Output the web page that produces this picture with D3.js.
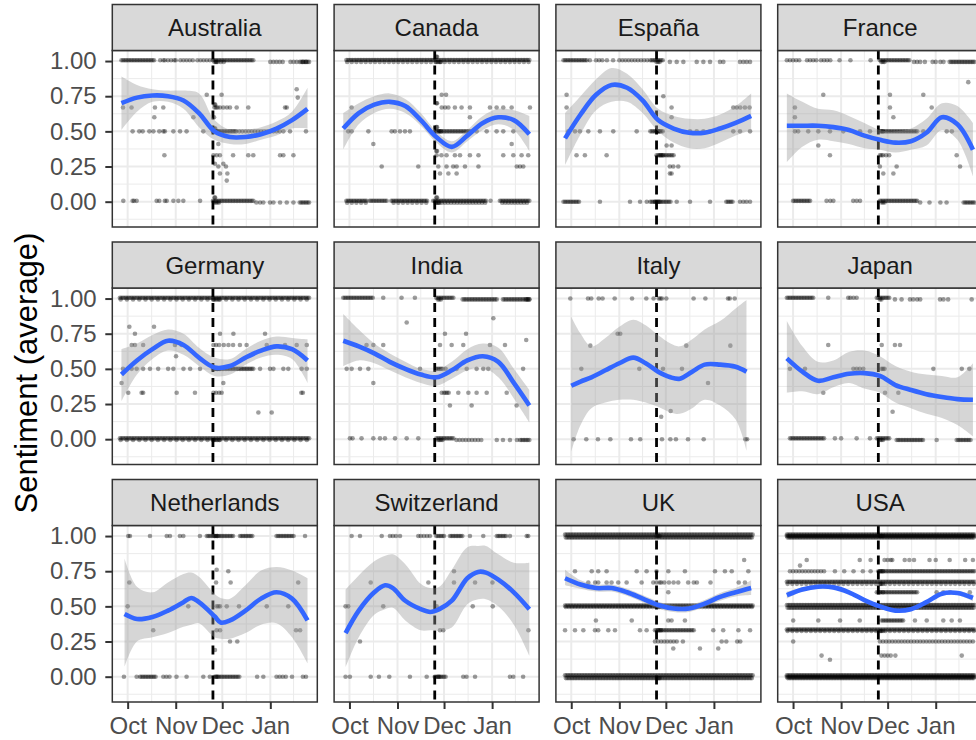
<!DOCTYPE html>
<html><head><meta charset="utf-8">
<script src="https://cdn.jsdelivr.net/npm/d3@7"></script>
<style>body{margin:0;background:#fff}svg{display:block}</style>
</head><body><svg id="chart" width="976" height="740"></svg>
<script>
// ---------------- data ----------------
const countries = ["Australia","Canada","España","France","Germany","India","Italy","Japan","Netherlands","Switzerland","UK","USA"];
const monthTicks = ["2019-10-01","2019-11-01","2019-12-01","2020-01-01"];
const yTicks = [0, 0.25, 0.5, 0.75, 1];
const eventDate = "2019-11-25";
const baseDate = "2019-10-01"; // day 0 of the day offsets below

// loess fit: [day offset from Oct 1, fit, lower, upper]
const fitAustralia = [[-4,.70,.51,.89],[6,.74,.64,.83],[16,.755,.71,.80],[26,.75,.71,.79],[36,.72,.66,.79],[46,.63,.53,.77],[56,.50,.44,.58],[66,.46,.41,.51],[76,.46,.41,.51],[86,.48,.44,.53],[96,.52,.47,.57],[106,.58,.52,.64],[116,.66,.52,.81]];
const fitCanada = [[-4,.52,.37,.63],[6,.63,.55,.70],[16,.69,.63,.75],[26,.71,.66,.77],[36,.68,.63,.73],[46,.58,.54,.63],[56,.46,.42,.50],[66,.39,.35,.43],[76,.47,.43,.51],[86,.56,.51,.61],[96,.60,.55,.66],[106,.58,.51,.65],[116,.48,.36,.61]];
const fitEspana = [[-4,.45,.26,.63],[6,.62,.48,.75],[16,.76,.65,.87],[26,.83,.71,.95],[36,.81,.71,.91],[46,.72,.63,.80],[56,.58,.50,.66],[66,.52,.42,.61],[76,.49,.38,.59],[86,.49,.38,.59],[96,.52,.42,.62],[106,.56,.47,.68],[116,.61,.51,.77]];
const fitFrance = [[-4,.54,.28,.77],[6,.54,.39,.71],[16,.54,.44,.66],[26,.53,.43,.65],[36,.51,.41,.61],[46,.47,.38,.56],[56,.44,.37,.51],[66,.42,.35,.50],[76,.43,.37,.52],[86,.49,.40,.59],[96,.60,.51,.70],[106,.55,.44,.68],[116,.37,.18,.56]];
const fitGermany = [[-4,.46,.27,.64],[6,.56,.46,.68],[16,.64,.57,.74],[26,.70,.63,.78],[36,.67,.60,.75],[46,.58,.52,.65],[56,.51,.45,.58],[66,.52,.46,.57],[76,.58,.53,.64],[86,.63,.58,.70],[96,.66,.60,.73],[106,.64,.57,.72],[116,.56,.40,.71]];
const fitIndia = [[-4,.70,.52,.89],[6,.66,.56,.78],[16,.61,.54,.68],[26,.55,.49,.61],[36,.50,.44,.55],[46,.46,.40,.50],[56,.44,.38,.49],[66,.49,.43,.55],[76,.56,.49,.64],[86,.59,.51,.68],[96,.55,.44,.65],[106,.40,.29,.50],[116,.24,.12,.35]];
const fitItaly = [[0,.38,-.09,.87],[6,.41,.10,.75],[13,.44,.22,.66],[22,.49,.26,.72],[31,.54,.28,.80],[40,.58,.28,.85],[48,.54,.26,.81],[56,.48,.23,.74],[64,.44,.19,.68],[70,.43,.18,.66],[78,.48,.22,.71],[86,.53,.28,.78],[96,.53,.24,.84],[106,.515,.14,.93],[113,.48,-.08,.99]];
const fitJapan = [[-4,.575,.33,.84],[6,.48,.34,.66],[16,.415,.32,.55],[26,.44,.37,.56],[36,.465,.40,.62],[46,.47,.36,.63],[56,.45,.33,.59],[66,.385,.26,.52],[76,.35,.22,.48],[86,.32,.18,.46],[96,.30,.15,.45],[106,.285,.10,.44],[116,.28,.02,.54]];
const fitNetherlands = [[-2,.445,.07,.84],[6,.41,.25,.64],[16,.425,.28,.60],[26,.47,.31,.67],[36,.53,.355,.73],[41,.56,.37,.74],[46,.53,.38,.71],[56,.43,.28,.59],[60,.385,.27,.56],[66,.40,.27,.555],[76,.47,.31,.65],[86,.555,.37,.755],[96,.60,.38,.78],[106,.555,.28,.755],[116,.40,.095,.70]];
const fitSwitzerland = [[-2.5,.31,.066,.62],[6,.47,.28,.72],[16,.60,.44,.82],[23,.65,.48,.86],[28,.63,.49,.87],[36,.54,.40,.80],[46,.48,.33,.66],[52,.46,.33,.63],[58,.48,.33,.64],[66,.54,.35,.76],[76,.70,.515,.92],[83,.745,.55,.93],[88,.74,.55,.93],[96,.69,.50,.87],[106,.60,.37,.81],[116,.48,.15,.81]];
const fitUK = [[-4,.70,.65,.76],[6,.655,.625,.685],[16,.63,.605,.655],[26,.63,.605,.655],[36,.60,.575,.625],[46,.555,.53,.58],[56,.51,.485,.535],[66,.485,.46,.51],[76,.485,.46,.51],[86,.52,.495,.545],[96,.567,.54,.595],[106,.60,.57,.63],[116,.63,.58,.685]];
const fitUSA = [[-4,.58,.555,.605],[6,.62,.605,.635],[16,.64,.628,.652],[26,.635,.623,.647],[36,.60,.588,.612],[46,.545,.533,.557],[56,.50,.49,.51],[66,.47,.46,.48],[76,.48,.47,.49],[86,.53,.52,.54],[96,.59,.578,.602],[106,.595,.58,.61],[116,.56,.535,.585]];

// observations as drawn (jittered): [sentiment, day offsets ("a..b" = one per day, ":s" = step)]
const ptsAustralia = [[1.006,"-4..17 21 23 24 26 28 30 31 34 36 38 40 42 45 47 49 51 53 55..81"],[0.994,"56 57 57 58 60 62 92 94 96 98 100 105 107 109 111..117 113 115"],[0.8,"109"],[0.76,"51 60.6"],[0.74,"109.7"],[0.67,"-3 2.5 17.6 23 56 57 58 59.5 61.7 64 66 70.3 77.8 101.5 102.6"],[0.69,"56 56.5"],[0.6,"17.2 42.4 55.7"],[0.5,"3.2 7.5 9.7 14 16.6 20.4 23 24 29.5 33.8 38 48.8 55..70 56 57 58 72 74 76 78 80 82 84 86 88 90 92 94 96 98 100.4 104.7 115"],[0.52,"56 56.5"],[0.41,"58.5"],[0.33,"23.7 55.3 57.4 59.5 68 77.8 81 98.3 100.4 106.9"],[0.27,"56.3 61.7"],[0.25,"58.5 63.4"],[0.2,"59.5 64.3"],[0.15,"63.9"],[0.006,"-2.8 3.2 4.1 5.8 18.7 20.4 24 25.2 29.5 32.7 35.9 46.7 55..81"],[-0.006,"56 57 58 59 83 85.4 87.5 91.8 94 98.3 102.6 106.9 111..117"],[0.03,"56 56.4"]];
const ptsCanada = [[1.007,"-2..116"],[0.993,"-1.5..115.5:3 56 57 58 59"],[1.03,"56 56.5"],[0.76,"59.5 62.3"],[0.67,"1.4 59.5 61.7 63.8 68 72.3 77.7 90.6 94.9 99.2 104.6 116.4"],[0.7,"56 56.5"],[0.6,"77.7"],[0.5,"-0.8 1.4 12.2 27.2 29.3 32.6 35.8 39 56..78 57 58 59 82 88.5 94.9 99.2 105.7"],[0.53,"56 56.5"],[0.41,"15.4 104.6"],[0.33,"56.2 59.3 62.6 68 71.3 77.7 83.2 99.2 105.7 111 115.3"],[0.36,"56 56.5"],[0.25,"20.8 44.4 57.3 62.6 66.9 69.1 74.5 83.2 107.9 110 112.1"],[0.2,"58.4 63.8 69.1"],[0.007,"-2..11 13..24 27..50 54..88 91 97..116"],[-0.007,"-1.5..10.5:3 28.5..49.5:3 55.5..87.5:2 56 57 58 98.5..115.5:2"],[0.03,"56 56.5"]];
const ptsEspana = [[1.006,"-5..10 12 16 18 20 23 27 31..49:2 51..59"],[0.994,"55 56 57 63.6 68 72.3 80.9 85.2 89.5 95.9 98.1 108.8 111 113.1 115.3"],[0.76,"-3"],[0.75,"59.4"],[0.67,"-3 64.7 104.5 106.7 109 112 115"],[0.6,"64.7"],[0.5,"-1.9 2.4 5.6 11 18.5 27.1 42.2 51..59 55 56 57 76.6 80.9 85.2 89.5 104.5 108.8 115.3"],[0.4,"61.5 64.7"],[0.33,"3.4 8.8 22.8 55..66 57 58 59"],[0.25,"63.6 65.8 69"],[0.2,"63.6 64.7"],[0,"-5..5 18.5 37.9 44.4 48.7 54 51..64 55 56 57 68 76.6 89.5 100..104.5 108.8 111 113 115.3"]];
const ptsFrance = [[1.006,"-4 -2 0 2 4 9 11 13 15 18 20 22 24 30 37 50 56..75"],[0.994,"57 58 59 78 80 82 85 90 92 95 97 101..117"],[0.85,"113"],[0.76,"19.5 62.5 84"],[0.67,"1.2 62.5 89.4"],[0.6,"1.2 64.7"],[0.5,"1.2 3.3 9.8 16.3 23.8 32.4 43.2 49.6 56..80 57 58 84 99.1 102.4"],[0.4,"16.3"],[0.33,"23.8 56 57 58 60 62 105.5"],[0.25,"56 66.8 107.7"],[0.2,"58.2 64.7"],[0.006,"0..11 21.6 24 26 38.8 41 43.2 56..80"],[-0.006,"57 58 59 82 88 95 99 110..117"]];
const ptsGermany = [[1.006,"-5..117"],[0.994,"55 56 57 58 59 -4.5..116.5:4"],[0.8,"1.1 17"],[0.75,"4.7 59.6 68.2 88.6"],[0.67,"2.6 4.7 10 30.5 34.8 55.3 57 59 62 65 68 72.4 76.7 89.7 101.5 109 115.5"],[0.59,"31.2"],[0.5,"-3 2.6 5.8 10 14.4 19.7 26.1 29.5 36 40.3 46.7 55..81 57 58 59 85.4 91.8 94 100.4 103.6 112.2 115.5"],[0.4,"-3.9 61.7"],[0.33,"0.4 9 10 31.6 43.4 55.3 57 59 60.6 112 113"],[0.19,"84.3 92.9"],[0.006,"-5..117"],[-0.006,"55 56 57 58 59 -4.5..116.5:4"]];
const ptsIndia = [[1.006,"-4..15 21.8 33.6 42.2 56..67"],[0.994,"57 58 59 73..95 99..116 114 115 116"],[0.86,"92.8"],[0.83,"36.9"],[0.75,"61.6 75.2"],[0.705,"114"],[0.67,"11 15.4 21.8 58.4 65.9 73.4 90.6 100.3"],[0.5,"-1.8 1.4 6.8 12.2 45.5 56 57 58 59 60 62 69.1 75.6 82 86.3 89.5 112"],[0.4,"15.4"],[0.33,"59.5 61 62 63 64 70.2 76.7 82 88.5 101.4"],[0.24,"64.8 78.8 107.8"],[0.006,"0.3 2 7.8 15.4 19.7 22.9 29.4 36.9 44.4 56..67"],[-0.006,"57 58 59 60 69..86:2 95 99 103.5 108 110..116"]];
const ptsItaly = [[1,"-0.6 10.8 12.9 17.7 20.2 28 39.2 48.4 53.1 56.4 57.5 58.5 61.3 78.9 86.5 101.1 102.2 105.4"],[0.75,"29.9 31.6"],[0.665,"12.3 74.2 102.6"],[0.5,"6.5 43.9 59.2 71.4"],[0.4,"88.2"],[0.2,"64.1"],[0.16,"58"],[0,"1.5 9.7 17.2 25.2 38.5 44.5 58.5 63.9 67.5 75.3 85.4 112.3 113.4"]];
const ptsJapan = [[1.006,"-4..13 22.7 35.6 37 39 41 54..62"],[0.994,"56 57 65.7 70 75.4 77.5 80 82 94.8 97 100 115.2"],[0.67,"22.7 57.2 65.7 69"],[0.5,"-2 7.7 38.9 41 43 45.3 57 58 59 90.5 108.8 113.7"],[0.33,"19.5 59.3 67.9"],[0.195,"64.2"],[0.006,"-2..20.6 27 31 41 49.6 54..62"],[-0.006,"56 57 58 66.8..84 92.6 105.5..115.2"]];
const ptsNetherlands = [[1,"0.4 1.5 14.4 25.2 27.3 33.7 35.9 46.6 51..68 56 57 58 72.4..81 96..107 114.4"],[0.76,"57.4"],[0.75,"64.9"],[0.67,"1.1 57 66.4 110"],[0.5,"0 39.1 57.4 58.5 59.6 63.9 71.8 89.7 103.6"],[0.33,"16.5 57.4 59.6 108.6 111.2"],[0.25,"66 70.7"],[0.19,"56.3"],[0,"-2.4 5.8 8..18.7 23 25 27 31.5 38 48.8 53 56..72 57 58 83.5 87.5 96 98 100 102 106 113 115"]];
const ptsSwitzerland = [[1,"1.4 6.8 20.8 26.1 28 30 32.6 44.4 46 48 50 51.9 56..61.6 64.8..73.4 77.7 86.3 95..101.4 103.5 114.3 115.3"],[0.75,"67.4"],[0.67,"13.7 50.9 67.4 81 92.2"],[0.5,"-2.5 -0.8 21.8 56.2 79.5 92.4"],[0.33,"58.4 60.5 115.4"],[0.25,"6.8"],[0,"-2.5 0.3 13.7 19 25.7 39 49.8 55..62 57 58 73.4 75.5 81 103.5 105.7 112"]];
const ptsUK = [[1.01,"-4..117"],[0.99,"-3.5..116.5"],[1,"55 56 57"],[0.83,"111.5"],[0.75,"2.4 13.2 17.4 22.8 42.2 48.6 55 62.6 73.3 92.7 99.1 103.5 114.2"],[0.67,"11 15.4 17.4 22.8 26 30.3 35.7 45.4 52.9 55 57 58 60 63 66 69 75.4 79 81 89.8 108 112"],[0.6,"62.6"],[0.505,"-4..117"],[0.495,"-3.5..116.5:2 56 57"],[0.4,"15.9 39 62.6 64.7 73.3"],[0.33,"-4 2.4 7.8 15.3 17.4 23.9 28.2 44.3 48.6 54..79 56 57 58 91.6 98 107.8 115.3"],[0.25,"54 56 58 60 62 64 66 68 72 97 100 107 109"],[0.2,"65.8 83 94.8"],[0.01,"-4..117"],[-0.01,"-3.5..116.5 56 57"]];
const ptsUSA = [[1.01,"-4..117"],[0.99,"-3.5..116.5"],[1,"-4..117 56 57 58"],[0.83,"8.8 43 50 59 61 63 64 72 75 78 88 92 101 111 116"],[0.79,"4.5"],[0.75,"-2 0 2 4 6 8 10 12 14 16 18 20 27 33 39 45 50 55..117 56 57 58"],[0.675,"-4..117"],[0.66,"-3.5..116.5:3 56 57 58"],[0.6,"54..80 56 58 92.6 96.9 101.2 114"],[0.51,"-4..117"],[0.49,"-3.5..116.5"],[0.4,"0.1 16.3 30.3 43 57..71 78.6 86.2 96.9 102.3 107.6"],[0.335,"-4..117"],[0.325,"-3.5..116.5:3 56 57 58"],[0.25,"0.1 56..117:2"],[0.15,"18.4 57 59 61 63 66 108.8"],[0.12,"23.8"],[0.01,"-4..117"],[-0.01,"-3.5..116.5"],[0,"-4..117"]];

// ---------------- layout / style ----------------
const fits = [fitAustralia,fitCanada,fitEspana,fitFrance,fitGermany,fitIndia,fitItaly,fitJapan,fitNetherlands,fitSwitzerland,fitUK,fitUSA];
const pts = [ptsAustralia,ptsCanada,ptsEspana,ptsFrance,ptsGermany,ptsIndia,ptsItaly,ptsJapan,ptsNetherlands,ptsSwitzerland,ptsUK,ptsUSA];

const colLeft = [112.3, 334.1, 555.9, 777.7];
const rowTop = [4.5, 242, 479.5];
const panelW = 205, stripH = 46, panelH = 176.5;
const FONT = "'Liberation Sans', Arial, Helvetica, sans-serif";

const svg = d3.select("#chart");
const parseDate = d3.timeParse("%Y-%m-%d");
const base = parseDate(baseDate);
const dayToDate = d => new Date(base.getTime() + d * 864e5);

const x = d3.scaleTime().domain([dayToDate(-9.9), dayToDate(122.3)]).range([0, panelW]);
const y = d3.scaleLinear().domain([-0.18, 1.075]).range([panelH, 0]);

const majorX = monthTicks.map(parseDate);
const minorX = [d3.timeDay.offset(parseDate("2020-01-01"), 15.5)];
for (let i = 0; i < majorX.length - 1; i++) minorX.push(new Date((+majorX[i] + +majorX[i+1]) / 2));
const minorY = [-0.125, 0.125, 0.375, 0.625, 0.875];

function parseDays(s) {
  const out = [];
  s.trim().split(/\s+/).forEach(tok => {
    const m = tok.match(/^(-?\d+(?:\.\d+)?)\.\.(-?\d+(?:\.\d+)?)(?::(\d+(?:\.\d+)?))?$/);
    if (m) { const a = +m[1], b = +m[2], st = m[3] ? +m[3] : 1; for (let d = a; d <= b + 1e-9; d += st) out.push(d); }
    else out.push(+tok);
  });
  return out;
}

const line = d3.line().x(d => x(dayToDate(d[0]))).y(d => y(d[1])).curve(d3.curveCatmullRom.alpha(0.5));
const area = d3.area().x(d => x(dayToDate(d[0]))).y0(d => y(d[2])).y1(d => y(d[3])).curve(d3.curveCatmullRom.alpha(0.5));

countries.forEach((name, i) => {
  const c = i % 4, r = Math.floor(i / 4);
  const px = colLeft[c], sy = rowTop[r], py = sy + stripH;
  const g = svg.append("g").attr("transform", `translate(${px},${py})`);
  const clipId = "clip" + i;
  g.append("clipPath").attr("id", clipId).append("rect").attr("width", panelW).attr("height", panelH);
  g.append("rect").attr("width", panelW).attr("height", panelH).attr("fill", "#fff");

  const grid = g.append("g").attr("clip-path", `url(#${clipId})`);
  grid.selectAll(".mny").data(minorY).join("line").attr("x1", 0).attr("x2", panelW)
    .attr("y1", d => y(d)).attr("y2", d => y(d)).attr("stroke", "#EBEBEB").attr("stroke-width", 1);
  grid.selectAll(".mnx").data(minorX).join("line").attr("y1", 0).attr("y2", panelH)
    .attr("x1", d => x(d)).attr("x2", d => x(d)).attr("stroke", "#EBEBEB").attr("stroke-width", 1);
  grid.selectAll(".mjy").data(yTicks).join("line").attr("x1", 0).attr("x2", panelW)
    .attr("y1", d => y(d)).attr("y2", d => y(d)).attr("stroke", "#EBEBEB").attr("stroke-width", 2);
  grid.selectAll(".mjx").data(majorX).join("line").attr("y1", 0).attr("y2", panelH)
    .attr("x1", d => x(d)).attr("x2", d => x(d)).attr("stroke", "#EBEBEB").attr("stroke-width", 2);

  const body = g.append("g").attr("clip-path", `url(#${clipId})`);
  const obs = [];
  pts[i].forEach(([lvl, s]) => parseDays(s).forEach(d => obs.push([d, lvl])));
  body.selectAll("circle").data(obs).join("circle")
    .attr("cx", d => x(dayToDate(d[0]))).attr("cy", d => y(d[1])).attr("r", 2.3)
    .attr("fill", "#000").attr("fill-opacity", 0.38);

  const ev = x(parseDate(eventDate));
  body.append("line").attr("x1", ev).attr("x2", ev).attr("y1", 0).attr("y2", panelH)
    .attr("stroke", "#000").attr("stroke-width", 2.8).attr("stroke-dasharray", "9,6");

  body.append("path").attr("d", area(fits[i])).attr("fill", "#999999").attr("fill-opacity", 0.4);
  body.append("path").attr("d", line(fits[i])).attr("fill", "none").attr("stroke", "#3366FF").attr("stroke-width", 4.6);

  g.append("rect").attr("width", panelW).attr("height", panelH).attr("fill", "none")
    .attr("stroke", "#333333").attr("stroke-width", 1.5);

  // strip
  svg.append("rect").attr("x", px).attr("y", sy).attr("width", panelW).attr("height", stripH)
    .attr("fill", "#D9D9D9").attr("stroke", "#333333").attr("stroke-width", 1.5);
  svg.append("text").attr("x", px + panelW / 2).attr("y", sy + stripH / 2 + 8.6)
    .attr("text-anchor", "middle").attr("font-family", FONT).attr("font-size", 24)
    .attr("fill", "#1A1A1A").text(name);

  if (c === 0) {
    const ax = g.append("g").call(d3.axisLeft(y).tickValues(yTicks).tickFormat(d3.format(".2f")).tickSize(7).tickPadding(8.6));
    ax.select(".domain").remove();
    ax.selectAll("line").attr("stroke", "#333333").attr("stroke-width", 2);
    ax.selectAll("text").attr("font-family", FONT).attr("font-size", 24).attr("fill", "#4D4D4D");
  }
  if (r === 2) {
    const ax = g.append("g").attr("transform", `translate(0,${panelH})`)
      .call(d3.axisBottom(x).tickValues(majorX).tickFormat(d3.timeFormat("%b")).tickSize(7).tickPadding(8));
    ax.select(".domain").remove();
    ax.selectAll("line").attr("stroke", "#333333").attr("stroke-width", 2);
    ax.selectAll("text").attr("font-family", FONT).attr("font-size", 24).attr("fill", "#4D4D4D");
  }
});

svg.append("text").attr("transform", "translate(37,373) rotate(-90)")
  .attr("text-anchor", "middle").attr("font-family", FONT).attr("font-size", 31)
  .attr("fill", "#000").text("Sentiment (average)");
</script></body></html>
